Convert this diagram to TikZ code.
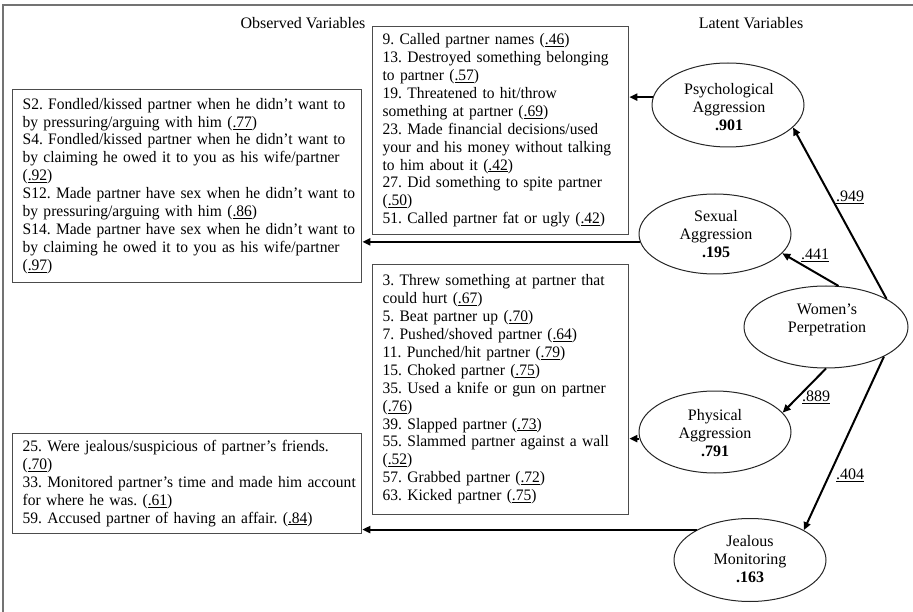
\documentclass[tikz,border=0pt]{standalone}
\usepackage{fontspec}
\setmainfont{Liberation Serif}
\newfontfamily\itemfont{Liberation Serif}[FakeStretch=0.97]
\usetikzlibrary{shapes.geometric,arrows.meta}
\frenchspacing
\begin{document}
\begin{tikzpicture}[x=1pt,y=-1pt,
  every node/.style={font=\fontsize{16}{17.9}\selectfont\frenchspacing, text=black},
  itembox/.style={draw=black!70, line width=1.3pt, anchor=north west,
    inner xsep=10pt, inner ysep=0pt, align=left,
    font=\itemfont\fontsize{16}{17.9}\selectfont\frenchspacing},
  latent/.style={draw=black!85, line width=1pt, ellipse, inner sep=0pt},
  ltext/.style={align=center, inner sep=0pt, font=\fontsize{16}{18}\selectfont},
  conn/.style={line width=2pt, -{Triangle[length=8pt,width=7pt]}},
  coef/.style={inner sep=0pt},
  heading/.style={inner sep=0pt}
]
\useasboundingbox (0,0) rectangle (913,612);
\draw[black!55, line width=2pt] (913,5) -- (3,5) -- (3,612);

\node[heading] (obs) at (303,23) {Observed Variables};
\node[heading] (lat) at (751,23) {Latent Variables};

% observed-variable boxes
\node[itembox, text width=236pt, minimum height=208pt] (pbox) at (372,26) {\noindent\begin{tabular}{@{}l@{}}
9. Called partner names (\underline{.46})\\
13. Destroyed something belonging\\
to partner (\underline{.57})\\
19. Threatened to hit/throw\\
something at partner (\underline{.69})\\
23. Made financial decisions/used\\
your and his money without talking\\
to him about it (\underline{.42})\\
27. Did something to spite partner\\
(\underline{.50})\\
51. Called partner fat or ugly (\underline{.42})
\end{tabular}};

\node[itembox, text width=329pt, minimum height=193pt] (sbox) at (12,89) {\noindent\begin{tabular}{@{}l@{}}
S2. Fondled/kissed partner when he didn’t want to\\
by pressuring/arguing with him (\underline{.77})\\
S4. Fondled/kissed partner when he didn’t want to\\
by claiming he owed it to you as his wife/partner\\
(\underline{.92})\\
S12. Made partner have sex when he didn’t want to\\
by pressuring/arguing with him (\underline{.86})\\
S14. Made partner have sex when he didn’t want to\\
by claiming he owed it to you as his wife/partner\\
(\underline{.97})
\end{tabular}};

\node[itembox, text width=236pt, minimum height=250pt] (fbox) at (372,264) {\noindent\begin{tabular}{@{}l@{}}
3. Threw something at partner that\\
could hurt (\underline{.67})\\
5. Beat partner up (\underline{.70})\\
7. Pushed/shoved partner (\underline{.64})\\
11. Punched/hit partner (\underline{.79})\\
15. Choked partner (\underline{.75})\\
35. Used a knife or gun on partner\\
(\underline{.76})\\
39. Slapped partner (\underline{.73})\\
55. Slammed partner against a wall\\
(\underline{.52})\\
57. Grabbed partner (\underline{.72})\\
63. Kicked partner (\underline{.75})
\end{tabular}};

\node[itembox, text width=329pt, minimum height=100pt] (jbox) at (12,433) {\noindent\begin{tabular}{@{}l@{}}
25. Were jealous/suspicious of partner’s friends.\\
(\underline{.70})\\
33. Monitored partner’s time and made him account\\
for where he was. (\underline{.61})\\
59. Accused partner of having an affair. (\underline{.84})
\end{tabular}};

% latent variables
\node[latent, minimum width=152pt, minimum height=84pt] (psy) at (728,105) {};
\node[latent, minimum width=152pt, minimum height=80pt] (sex) at (715,234) {};
\node[latent, minimum width=164pt, minimum height=82pt] (wp) at (826,327) {};
\node[latent, minimum width=152pt, minimum height=82pt] (phy) at (715,432) {};
\node[latent, minimum width=152pt, minimum height=83pt] (jea) at (750,560) {};

\node[ltext] (psyT) at (729,107) {Psychological\\Aggression\\\textbf{.901}};
\node[ltext] (sexT) at (716,234) {Sexual\\Aggression\\\textbf{.195}};
\node[ltext] (wpT) at (827,320) {Women’s\\Perpetration};
\node[ltext] (phyT) at (715,433) {Physical\\Aggression\\\textbf{.791}};
\node[ltext] (jeaT) at (750,559) {Jealous\\Monitoring\\\textbf{.163}};

% connectors
\draw[conn] (psy.174) -- (psy.174 -| pbox.east);
\draw[conn] (sex.186) -- (sex.186 -| sbox.east);
\draw[conn] (phy.185) -- (phy.185 -| fbox.east);
\draw[conn] (jea.150) -- (jea.150 -| jbox.east);

\draw[conn] (wp.25) -- (psy.-19.5);
\draw[conn] (wp.73) -- (sex.-16);
\draw[conn] (wp.-90) -- (phy.16);
\draw[conn] (wp.-27) -- (jea.29);

\node[coef] (c949) at (850,197) {\underline{.949}};
\node[coef] (c441) at (815,255) {\underline{.441}};
\node[coef] (c889) at (816,397) {\underline{.889}};
\node[coef] (c404) at (850,475) {\underline{.404}};
\end{tikzpicture}
\end{document}
